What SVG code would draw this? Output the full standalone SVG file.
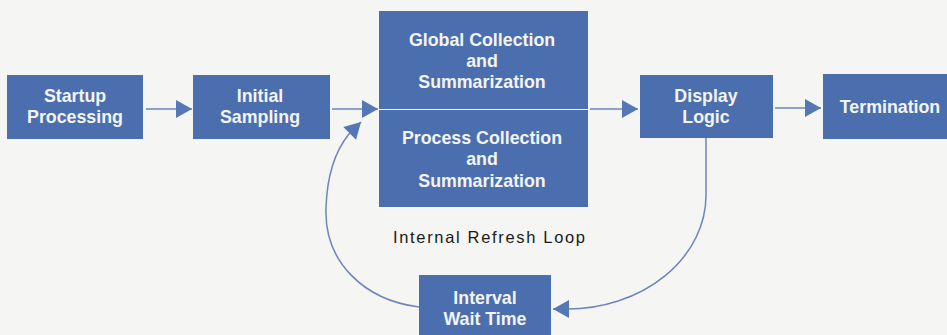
<svg xmlns="http://www.w3.org/2000/svg" width="947" height="335" viewBox="0 0 947 335">
  <defs>
    <marker id="ah" markerUnits="userSpaceOnUse" markerWidth="17" markerHeight="18" refX="16" refY="9" orient="auto" overflow="visible">
      <path d="M0,0 L16,9 L0,18 Z" fill="#5677b5"/>
    </marker>
    <style>
      .box { fill: #4b6fae; }
      .bt { font-family: "Liberation Sans", Arial, Helvetica, sans-serif; font-weight: bold; font-size: 17.8px; fill: #f4f4f4; text-anchor: middle; }
      .lbl { font-family: "Liberation Sans", Arial, Helvetica, sans-serif; font-size: 16.5px; fill: #1a1a1a; text-anchor: middle; }
      .conn { fill: none; stroke: #6a86bd; stroke-width: 1.5; }
    </style>
  </defs>
  <rect x="0" y="0" width="947" height="335" fill="#f5f5f3"/>

  <g id="connectors">
    <path class="conn" d="M146,109 H192" marker-end="url(#ah)"/>
    <path class="conn" d="M332,109 H378" marker-end="url(#ah)"/>
    <path class="conn" d="M590,109 H638" marker-end="url(#ah)"/>
    <path class="conn" d="M775,108 H821" marker-end="url(#ah)"/>
    <path class="conn" d="M706,138 V195 A139,114 0 0 1 567,309 H553" marker-end="url(#ah)"/>
    <path class="conn" d="M419,307 C364,300 324,262 326,208 C327,175 336,150 349,134 L361,122" marker-end="url(#ah)"/>
  </g>

  <g id="startup">
    <rect class="box" x="7" y="75" width="136" height="64"/>
    <text class="bt" x="75" y="102">Startup</text>
    <text class="bt" x="75" y="123">Processing</text>
  </g>

  <g id="initial">
    <rect class="box" x="193" y="75" width="137" height="64"/>
    <text class="bt" x="260" y="102">Initial</text>
    <text class="bt" x="260" y="123">Sampling</text>
  </g>

  <g id="global">
    <rect class="box" x="379" y="11" width="209" height="98"/>
    <text class="bt" x="482" y="46">Global Collection</text>
    <text class="bt" x="482" y="67">and</text>
    <text class="bt" x="482" y="88">Summarization</text>
  </g>

  <g id="process">
    <rect class="box" x="379" y="110" width="209" height="97"/>
    <text class="bt" x="482" y="144">Process Collection</text>
    <text class="bt" x="482" y="165">and</text>
    <text class="bt" x="482" y="187">Summarization</text>
  </g>

  <g id="display">
    <rect class="box" x="640" y="75" width="133" height="63"/>
    <text class="bt" x="706" y="102">Display</text>
    <text class="bt" x="706" y="123">Logic</text>
  </g>

  <g id="termination">
    <rect class="box" x="823" y="74" width="130" height="65"/>
    <text class="bt" x="890" y="113">Termination</text>
  </g>

  <g id="interval">
    <rect class="box" x="419" y="275" width="132" height="65"/>
    <text class="bt" x="485" y="304">Interval</text>
    <text class="bt" x="485" y="325">Wait Time</text>
  </g>

  <g id="loop-label">
    <text class="lbl" x="489" y="243" textLength="192" lengthAdjust="spacing">Internal Refresh Loop</text>
  </g>
</svg>
